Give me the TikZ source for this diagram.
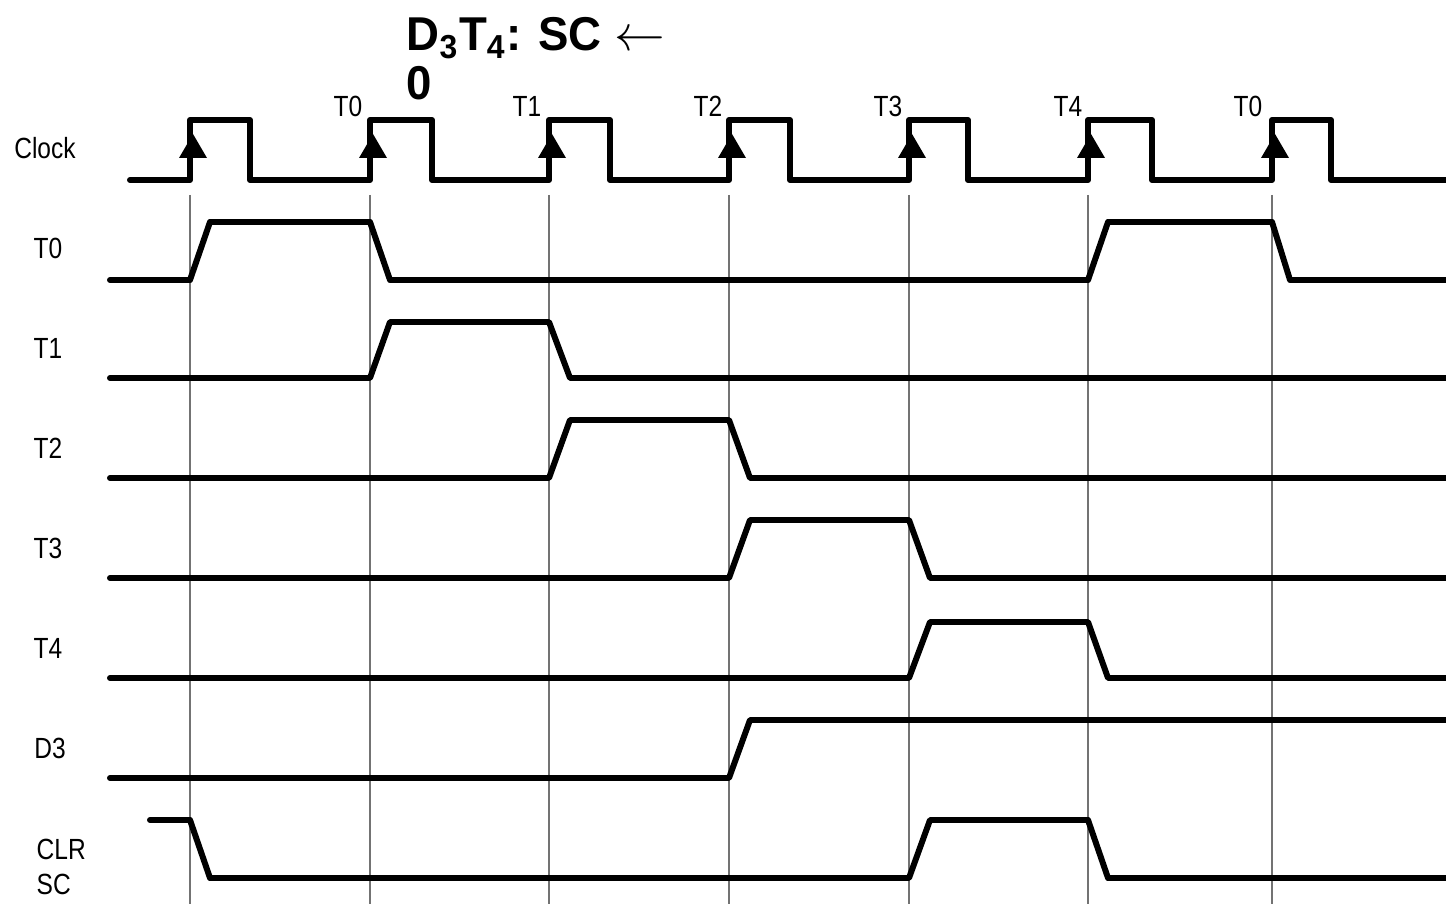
\documentclass[tikz,border=0pt]{standalone}
\usepackage{fontspec}
\setmainfont[FakeStretch=0.84]{Liberation Sans}
\newfontfamily\titlefont[FakeStretch=0.96]{Liberation Sans}

\begin{document}
\begin{tikzpicture}[x=0.01cm,y=-0.01cm,
    wave/.style={line width=1.7pt,line cap=round,line join=round},
    guide/.style={line width=0.4pt,black!55},
    lbl/.style={font=\fontsize{8.3}{9}\selectfont,inner sep=0pt},
    edgetip/.style={fill=black}]
\useasboundingbox (0,0) rectangle (1446,904);
% guide lines at the rising clock edges
\foreach \x in {190,370,549,729,909,1088,1272}
  \draw[guide] (\x,195) -- (\x,904);
% clock
\draw[wave] (130,180)
  \foreach \r/\f in {190/250,370/432,549/610,729/790,909/968,1088/1152,1272/1331}
    { -- (\r,180) -- (\r,120) -- (\f,120) -- (\f,180) } -- (1446,180);
\foreach \x in {190,370,549,729,909,1088,1272}
  \fill[edgetip] (\x+3,134) -- (\x-11,158) -- (\x+17,158) -- cycle;
% clock edge labels
\foreach \x/\t [count=\i] in {348/T0,527/T1,708/T2,888/T3,1068/T4,1248/T0}
  \node[lbl] (ck\i) at (\x,106) {\t};
% signal names
\node[lbl] (clk) at (45,148) {Clock};
\node[lbl] (nt0) at (48,248) {T0};
\node[lbl] (nt1) at (48,348) {T1};
\node[lbl] (nt2) at (48,448) {T2};
\node[lbl] (nt3) at (48,548) {T3};
\node[lbl] (nt4) at (48,648) {T4};
\node[lbl] (nd3) at (50,748) {D3};
\node[lbl,align=left,anchor=west,font=\fontsize{8.3}{10}\selectfont] (nclr) at (36,867) {CLR\\SC};
% title
\node[inner sep=0pt,align=left,anchor=north west,
  font=\titlefont\bfseries\fontsize{13.5}{13.8}\selectfont] (title) at (406,17)
  {D\textsubscript{3}T\textsubscript{4}: SC $\leftarrow$\\0};
% waveforms
\draw[wave] (110,280) -- (190,280) -- (210,222) -- (370,222) -- (390,280)
  -- (1088,280) -- (1108,222) -- (1272,222) -- (1290,280) -- (1446,280);
\draw[wave] (110,378) -- (370,378) -- (390,322) -- (549,322) -- (570,378) -- (1446,378);
\draw[wave] (110,478) -- (549,478) -- (570,420) -- (729,420) -- (750,478) -- (1446,478);
\draw[wave] (110,578) -- (729,578) -- (750,520) -- (909,520) -- (930,578) -- (1446,578);
\draw[wave] (110,678) -- (909,678) -- (930,622) -- (1088,622) -- (1108,678) -- (1446,678);
\draw[wave] (110,778) -- (729,778) -- (750,720) -- (1446,720);
\draw[wave] (150,820) -- (190,820) -- (210,878) -- (909,878) -- (930,820)
  -- (1088,820) -- (1108,878) -- (1446,878);
\end{tikzpicture}
\end{document}
